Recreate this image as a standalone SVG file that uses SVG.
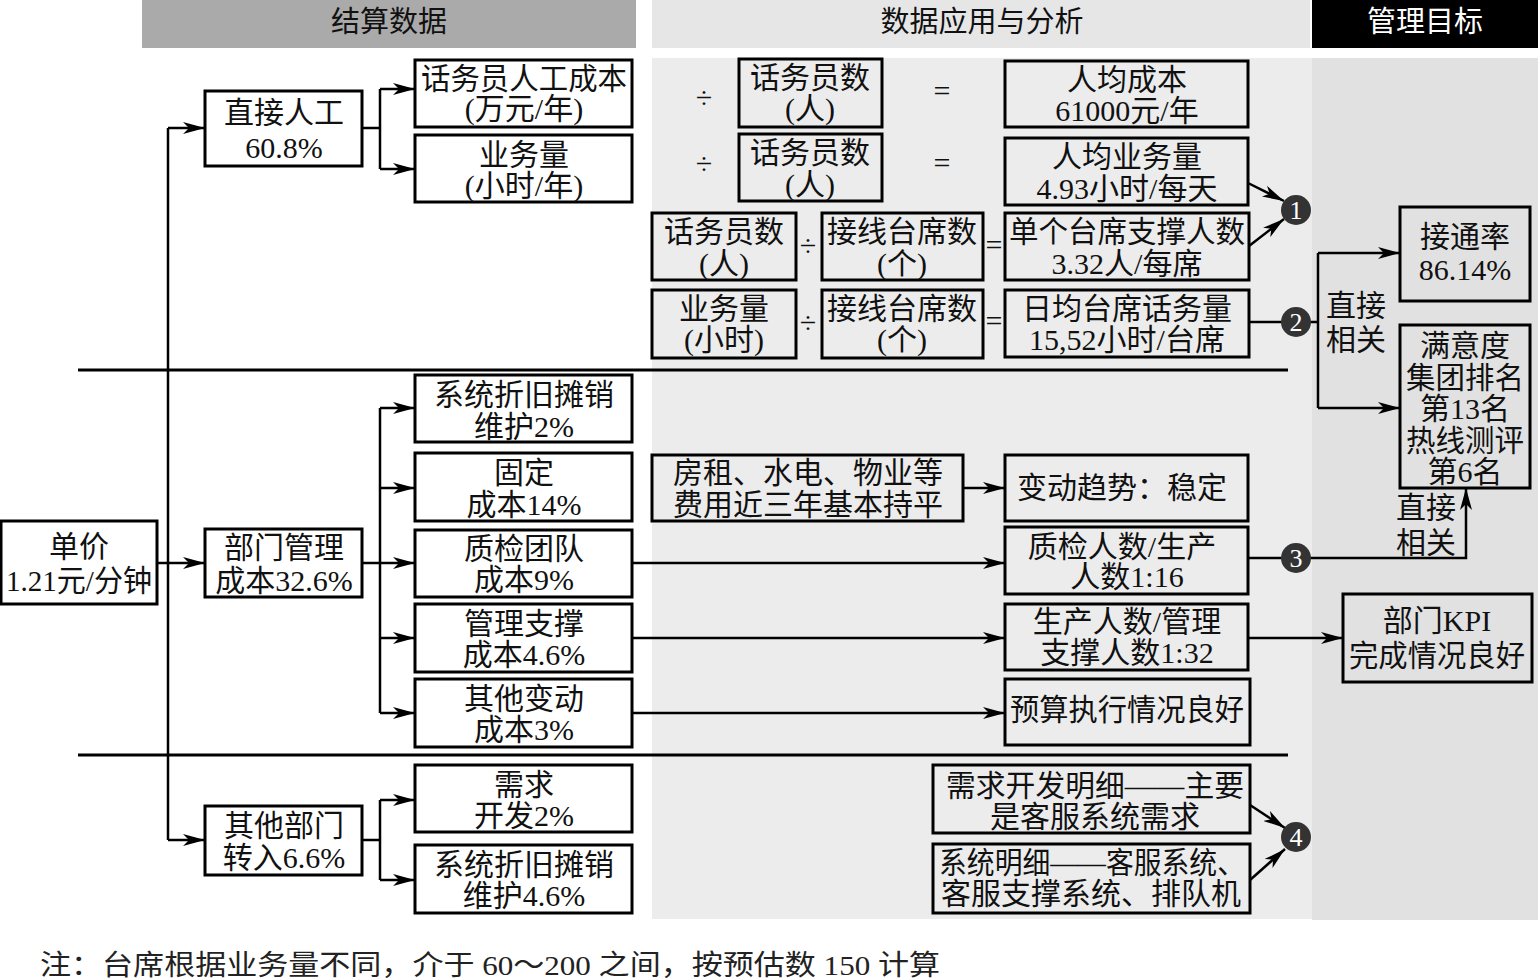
<svg xmlns="http://www.w3.org/2000/svg" width="1538" height="978" viewBox="0 0 1538 978">
<style>
.b{fill:none;stroke:#000;stroke-width:3}
.t{font-family:"Liberation Serif","Noto Sans CJK SC",serif;font-size:30px;text-anchor:middle;dominant-baseline:central;fill:#111}
.h{font-family:"Liberation Serif","Noto Sans CJK SC",serif;font-size:29px;text-anchor:middle;dominant-baseline:central}
.c{fill:none;stroke:#000;stroke-width:2.5}
.a{fill:none;stroke:#000;stroke-width:2.5;marker-end:url(#ar)}
.sep{stroke:#000;stroke-width:3}
.cir{fill:#333}
.ct{font-family:"Liberation Serif",serif;font-size:26px;text-anchor:middle;dominant-baseline:central;fill:#fff}
</style>
<defs>
<marker id="ar" markerUnits="userSpaceOnUse" markerWidth="22" markerHeight="12" refX="22" refY="6" orient="auto">
<path d="M0,0 L22,6 L0,12 L6,6 z" fill="#000"/>
</marker>
</defs>
<rect width="1538" height="978" fill="#fff"/>
<!-- panels -->
<rect x="652" y="58" width="660" height="861" fill="#ececec"/>
<rect x="1312" y="58" width="226" height="862" fill="#e1e1e1"/>
<!-- headers -->
<g id="hdr1"><rect x="142" y="0" width="494" height="48" fill="#aaaaaa"/><text class="h" x="389" y="22" fill="#111">结算数据</text></g>
<g id="hdr2"><rect x="652" y="0" width="658" height="48" fill="#e6e6e6"/><text class="h" x="982" y="22" fill="#111">数据应用与分析</text></g>
<g id="hdr3"><rect x="1312" y="0" width="226" height="48" fill="#000"/><text class="h" x="1425" y="22" fill="#fff">管理目标</text></g>
<!-- separators -->
<line class="sep" x1="78" y1="370" x2="1288" y2="370"/>
<line class="sep" x1="78" y1="755" x2="1288" y2="755"/>
<g id="connectors">
<path class="c" d="M168,128 V840"/>
<path class="a" d="M168,128 H205"/>
<path class="a" d="M157,563 H205"/>
<path class="a" d="M168,840 H205"/>
<path class="c" d="M362,128 H380 M380,89 V169"/>
<path class="a" d="M380,89 H415"/>
<path class="a" d="M380,169 H415"/>
<path class="c" d="M362,563 H380 M380,408 V713"/>
<path class="a" d="M380,408 H415"/>
<path class="a" d="M380,488 H415"/>
<path class="a" d="M380,563 H415"/>
<path class="a" d="M380,638 H415"/>
<path class="a" d="M380,713 H415"/>
<path class="c" d="M362,840 H380 M380,800 V880"/>
<path class="a" d="M380,800 H415"/>
<path class="a" d="M380,880 H415"/>
<path class="a" d="M632,563 H1005"/>
<path class="a" d="M632,638 H1005"/>
<path class="a" d="M632,713 H1005"/>
<path class="a" d="M963,488 H1005"/>
<path class="a" d="M1248,638 H1343"/>
<path class="a" d="M1248,183 L1284,201"/>
<path class="a" d="M1249,246 L1284,219"/>
<path class="c" d="M1249,322 H1318"/>
<path class="c" d="M1318,253 V408"/>
<path class="a" d="M1318,253 H1400"/>
<path class="a" d="M1318,408 H1400"/>
<path class="a" d="M1248,558 H1466 V488"/>
<path class="a" d="M1250,805 L1285,828"/>
<path class="a" d="M1250,880 L1285,849"/>
</g>
<!-- left nodes -->
<g id="n-danjia"><rect class="b" x="1" y="521" width="156" height="83"/><text class="t" x="79" y="546">单价</text><text class="t" x="79" y="580" textLength="146" lengthAdjust="spacingAndGlyphs">1.21元/分钟</text></g>
<g id="n-zhijie"><rect class="b" x="205" y="91" width="157" height="75"/><text class="t" x="284" y="112">直接人工</text><text class="t" x="284" y="147">60.8%</text></g>
<g id="n-bumen"><rect class="b" x="205" y="529" width="157" height="68"/><text class="t" x="284" y="547">部门管理</text><text class="t" x="284" y="580">成本32.6%</text></g>
<g id="n-qita"><rect class="b" x="205" y="806" width="157" height="69"/><text class="t" x="284" y="825">其他部门</text><text class="t" x="284" y="857">转入6.6%</text></g>
<g id="n-hwy-cost"><rect class="b" x="415" y="60" width="217" height="67"/><text class="t" x="524" y="78" textLength="206" lengthAdjust="spacingAndGlyphs">话务员人工成本</text><text class="t" x="524" y="108">(万元/年)</text></g>
<g id="n-ywl"><rect class="b" x="415" y="135" width="217" height="67"/><text class="t" x="524" y="154">业务量</text><text class="t" x="524" y="185">(小时/年)</text></g>
<g id="n-xtzj"><rect class="b" x="415" y="375" width="217" height="67"/><text class="t" x="524" y="394">系统折旧摊销</text><text class="t" x="524" y="426">维护2%</text></g>
<g id="n-guding"><rect class="b" x="415" y="453" width="217" height="68"/><text class="t" x="524" y="472">固定</text><text class="t" x="524" y="504">成本14%</text></g>
<g id="n-zhijian"><rect class="b" x="415" y="530" width="217" height="67"/><text class="t" x="524" y="548">质检团队</text><text class="t" x="524" y="579">成本9%</text></g>
<g id="n-guanli"><rect class="b" x="415" y="604" width="217" height="68"/><text class="t" x="524" y="623">管理支撑</text><text class="t" x="524" y="654">成本4.6%</text></g>
<g id="n-qitabd"><rect class="b" x="415" y="679" width="217" height="68"/><text class="t" x="524" y="698">其他变动</text><text class="t" x="524" y="729">成本3%</text></g>
<g id="n-xuqiu"><rect class="b" x="415" y="765" width="217" height="67"/><text class="t" x="524" y="784">需求</text><text class="t" x="524" y="815">开发2%</text></g>
<g id="n-xtzj2"><rect class="b" x="415" y="845" width="217" height="68"/><text class="t" x="524" y="864">系统折旧摊销</text><text class="t" x="524" y="895">维护4.6%</text></g>
<!-- middle nodes -->
<g id="op1"><text class="t" x="704" y="97">÷</text><text class="t" x="942" y="90">=</text></g>
<g id="op2"><text class="t" x="704" y="163">÷</text><text class="t" x="942" y="162">=</text></g>
<g id="op3"><text class="t" x="808" y="245">÷</text><text class="t" x="994" y="244">=</text></g>
<g id="op4"><text class="t" x="808" y="322">÷</text><text class="t" x="994" y="320">=</text></g>
<g id="n-hwys1"><rect class="b" x="739" y="59" width="143" height="68"/><text class="t" x="810" y="77">话务员数</text><text class="t" x="810" y="108">(人)</text></g>
<g id="n-hwys2"><rect class="b" x="739" y="134" width="143" height="67"/><text class="t" x="810" y="152">话务员数</text><text class="t" x="810" y="184">(人)</text></g>
<g id="n-rjcb"><rect class="b" x="1005" y="61" width="243" height="66"/><text class="t" x="1127" y="79">人均成本</text><text class="t" x="1127" y="110">61000元/年</text></g>
<g id="n-rjywl"><rect class="b" x="1005" y="138" width="243" height="67"/><text class="t" x="1127" y="156">人均业务量</text><text class="t" x="1127" y="188">4.93小时/每天</text></g>
<g id="n-hwys3"><rect class="b" x="652" y="213" width="144" height="67"/><text class="t" x="724" y="231">话务员数</text><text class="t" x="724" y="263">(人)</text></g>
<g id="n-jxtx1"><rect class="b" x="822" y="213" width="161" height="67"/><text class="t" x="902" y="231">接线台席数</text><text class="t" x="902" y="263">(个)</text></g>
<g id="n-dgtx"><rect class="b" x="1005" y="213" width="244" height="67"/><text class="t" x="1127" y="231" textLength="236" lengthAdjust="spacingAndGlyphs">单个台席支撑人数</text><text class="t" x="1127" y="263">3.32人/每席</text></g>
<g id="n-ywl2"><rect class="b" x="652" y="290" width="144" height="68"/><text class="t" x="724" y="308">业务量</text><text class="t" x="724" y="339">(小时)</text></g>
<g id="n-jxtx2"><rect class="b" x="822" y="290" width="161" height="68"/><text class="t" x="902" y="308">接线台席数</text><text class="t" x="902" y="339">(个)</text></g>
<g id="n-rjtx"><rect class="b" x="1005" y="290" width="244" height="67"/><text class="t" x="1127" y="308">日均台席话务量</text><text class="t" x="1127" y="339">15,52小时/台席</text></g>
<g id="n-fangzu"><rect class="b" x="652" y="455" width="311" height="66"/><text class="t" x="808" y="472">房租、水电、物业等</text><text class="t" x="808" y="504">费用近三年基本持平</text></g>
<g id="n-bdqs"><rect class="b" x="1005" y="455" width="243" height="66"/><text class="t" x="1122" y="487">变动趋势：稳定</text></g>
<g id="n-zjrs"><rect class="b" x="1005" y="527" width="243" height="67"/><text class="t" x="1122" y="546">质检人数/生产</text><text class="t" x="1127" y="576">人数1:16</text></g>
<g id="n-scrs"><rect class="b" x="1005" y="604" width="243" height="66"/><text class="t" x="1127" y="621">生产人数/管理</text><text class="t" x="1127" y="652">支撑人数1:32</text></g>
<g id="n-ysz"><rect class="b" x="1005" y="679" width="245" height="66"/><text class="t" x="1127" y="709" textLength="234" lengthAdjust="spacingAndGlyphs">预算执行情况良好</text></g>
<g id="n-xqkf"><rect class="b" x="933" y="765" width="317" height="68"/><text class="t" x="1095" y="785" textLength="298" lengthAdjust="spacingAndGlyphs">需求开发明细——主要</text><text class="t" x="1095" y="816">是客服系统需求</text></g>
<g id="n-xtmx"><rect class="b" x="933" y="844" width="317" height="69"/><text class="t" x="1092" y="862" textLength="306" lengthAdjust="spacingAndGlyphs">系统明细——客服系统、</text><text class="t" x="1091" y="893" textLength="300" lengthAdjust="spacingAndGlyphs">客服支撑系统、排队机</text></g>
<!-- circles -->
<g id="c1"><circle class="cir" cx="1296" cy="210" r="15"/><text class="ct" x="1296" y="210">1</text></g>
<g id="c2"><circle class="cir" cx="1296" cy="322" r="15"/><text class="ct" x="1296" y="322">2</text></g>
<g id="c3"><circle class="cir" cx="1296" cy="558" r="15"/><text class="ct" x="1296" y="558">3</text></g>
<g id="c4"><circle class="cir" cx="1296" cy="837" r="15"/><text class="ct" x="1296" y="837">4</text></g>
<!-- right nodes -->
<g id="lbl1"><text class="t" x="1356" y="305">直接</text><text class="t" x="1356" y="339">相关</text></g>
<g id="lbl2"><text class="t" x="1426" y="507">直接</text><text class="t" x="1426" y="542">相关</text></g>
<g id="n-jtl"><rect class="b" x="1400" y="207" width="130" height="94"/><text class="t" x="1465" y="236">接通率</text><text class="t" x="1465" y="269">86.14%</text></g>
<g id="n-myd"><rect class="b" x="1400" y="325" width="130" height="163"/><text class="t" x="1465" y="345">满意度</text><text class="t" x="1465" y="377" textLength="118" lengthAdjust="spacingAndGlyphs">集团排名</text><text class="t" x="1465" y="408">第13名</text><text class="t" x="1465" y="440" textLength="118" lengthAdjust="spacingAndGlyphs">热线测评</text><text class="t" x="1465" y="471">第6名</text></g>
<g id="n-kpi"><rect class="b" x="1343" y="594" width="189" height="88"/><text class="t" x="1437" y="620">部门KPI</text><text class="t" x="1437" y="655" textLength="176" lengthAdjust="spacingAndGlyphs">完成情况良好</text></g>
<g id="note"><text x="40" y="965" textLength="900" lengthAdjust="spacingAndGlyphs" style="font-family:'Liberation Serif','Noto Sans CJK SC',serif;font-size:28px;fill:#222;dominant-baseline:central">注：台席根据业务量不同，介于 60～200 之间，按预估数 150 计算</text></g>
</svg>
